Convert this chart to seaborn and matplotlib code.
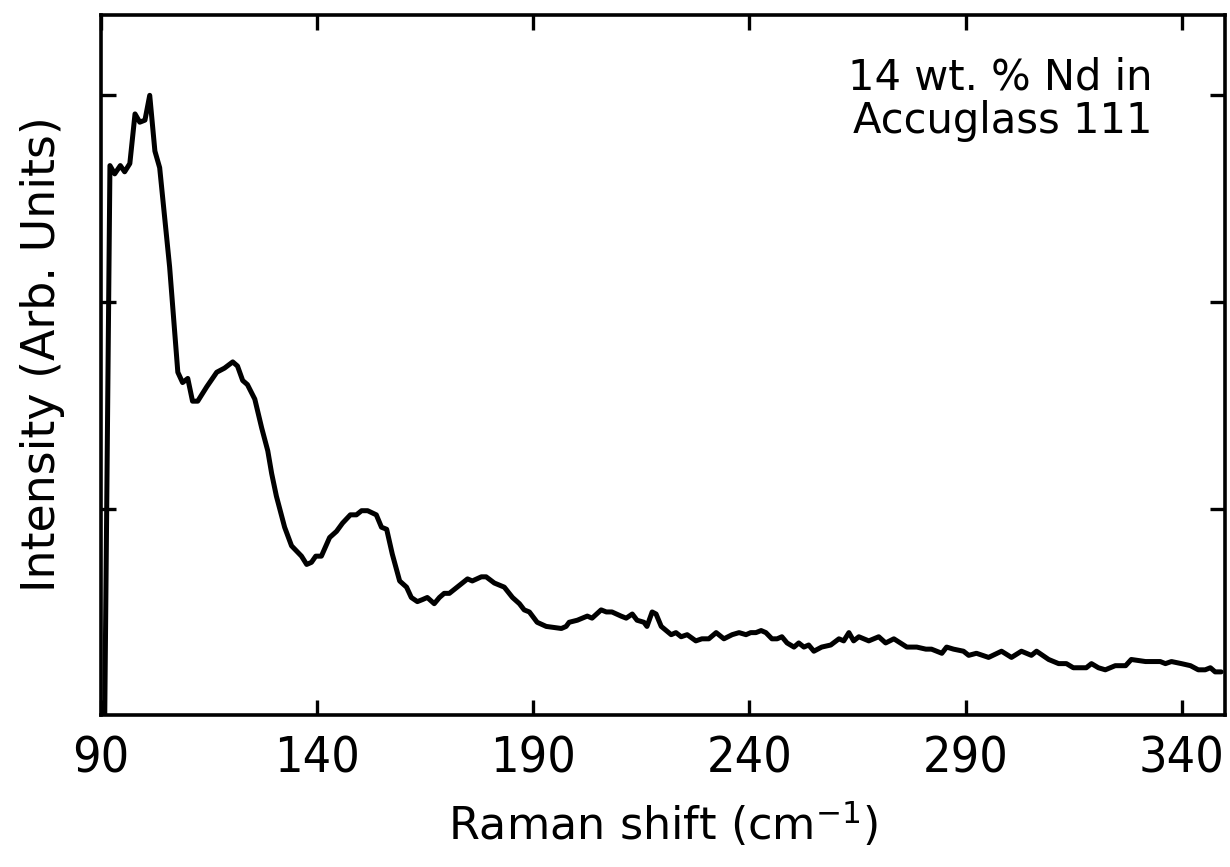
import numpy as np
import pandas as pd
import seaborn as sns
import matplotlib.pyplot as plt

# Raman spectrum
shift = [90.9, 92.1, 93.2, 94.5, 95.5, 96.7, 97.9, 99.0, 100.2, 101.3,
         102.5, 103.6, 105.9, 107.8, 108.9, 110.1, 111.2, 112.4, 114.5, 116.8,
         118.6, 120.5, 121.6, 122.8, 123.9, 125.6, 127.2, 128.6, 129.5, 130.6,
         132.5, 134.1, 136.4, 137.6, 138.7, 139.7, 141.0, 142.9, 144.5, 145.9,
         147.7, 149.1, 150.3, 151.7, 153.7, 154.9, 156.1, 157.4, 159.1, 160.7,
         161.8, 163.2, 164.4, 165.5, 167.1, 168.3, 169.4, 170.6, 172.4, 174.8,
         175.9, 178.0, 179.1, 181.0, 183.3, 185.2, 186.8, 187.9, 189.1, 190.9,
         193.0, 196.5, 197.6, 198.3, 200.2, 202.5, 203.6, 205.7, 206.9, 208.2,
         210.3, 211.5, 212.9, 214.0, 215.6, 216.3, 217.5, 218.4, 219.6, 221.9,
         223.0, 224.2, 225.6, 227.6, 229.0, 230.6, 232.3, 234.1, 236.0, 237.6,
         239.2, 240.3, 241.5, 242.7, 243.8, 245.2, 246.4, 247.5, 248.7, 250.3,
         251.4, 252.6, 253.7, 254.9, 256.7, 258.8, 260.7, 261.8, 263.0, 264.1,
         265.3, 267.6, 269.9, 271.5, 273.4, 276.4, 278.7, 280.8, 282.1, 284.5,
         285.6, 287.2, 289.5, 290.7, 292.5, 295.3, 298.3, 300.6, 302.9, 305.2,
         306.4, 309.2, 311.5, 313.3, 314.9, 317.9, 319.1, 320.7, 322.3, 324.6,
         327.0, 328.3, 331.6, 335.0, 336.2, 337.6, 339.9, 342.0, 343.8, 345.4,
         346.6, 347.7, 349.1]
intensity = [0.00, 2.66, 2.62, 2.66, 2.63, 2.67, 2.91, 2.87, 2.88, 3.00,
             2.73, 2.65, 2.17, 1.66, 1.61, 1.63, 1.52, 1.52, 1.59, 1.66,
             1.68, 1.71, 1.69, 1.62, 1.60, 1.53, 1.39, 1.28, 1.17, 1.06,
             0.91, 0.82, 0.77, 0.73, 0.74, 0.77, 0.77, 0.86, 0.89, 0.93,
             0.97, 0.97, 0.99, 0.99, 0.97, 0.91, 0.90, 0.78, 0.65, 0.62,
             0.57, 0.55, 0.56, 0.57, 0.54, 0.57, 0.59, 0.59, 0.62, 0.66,
             0.65, 0.67, 0.67, 0.64, 0.62, 0.57, 0.54, 0.51, 0.50, 0.45,
             0.43, 0.42, 0.43, 0.45, 0.46, 0.48, 0.47, 0.51, 0.50, 0.50,
             0.48, 0.47, 0.49, 0.46, 0.45, 0.43, 0.50, 0.49, 0.43, 0.39,
             0.40, 0.38, 0.39, 0.36, 0.37, 0.37, 0.40, 0.37, 0.39, 0.40,
             0.39, 0.40, 0.40, 0.41, 0.40, 0.37, 0.37, 0.38, 0.35, 0.33,
             0.35, 0.33, 0.34, 0.31, 0.33, 0.34, 0.37, 0.36, 0.40, 0.36,
             0.38, 0.36, 0.38, 0.35, 0.37, 0.33, 0.33, 0.32, 0.32, 0.30,
             0.33, 0.32, 0.31, 0.29, 0.30, 0.28, 0.31, 0.28, 0.31, 0.29,
             0.31, 0.27, 0.25, 0.25, 0.23, 0.23, 0.25, 0.23, 0.22, 0.24,
             0.24, 0.27, 0.26, 0.26, 0.25, 0.26, 0.25, 0.24, 0.22, 0.22,
             0.23, 0.21, 0.21]

x_ticks = [90, 140, 190, 240, 290, 340]
y_ticks = [1, 2, 3]

sns.set_style('ticks')
plt.rcParams['font.family'] = ['DejaVu Sans']
for key in ['text.color', 'axes.labelcolor', 'xtick.color', 'ytick.color', 'axes.edgecolor']:
    plt.rcParams[key] = 'black'

df = pd.DataFrame({'shift': shift, 'intensity': intensity})

fig = plt.figure(figsize=(12.3, 8.67), dpi=100)
ax = fig.add_axes([0.082, 0.175, 0.914, 0.808])

sns.lineplot(data=df, x='shift', y='intensity', color='black', linewidth=3.6, ax=ax)

ax.set_xlim(90, 350)
ax.set_ylim(0, 3.39)
ax.set_xticks(x_ticks)
ax.set_yticks(y_ticks)
ax.set_yticklabels([])
ax.tick_params(direction='in', length=11, width=2.4, top=True, right=True,
               labelsize=36, pad=14)
for lbl in ax.get_xticklabels():
    lbl.set_stretch('condensed')
for sp in ax.spines.values():
    sp.set_linewidth(2.6)
    sp.set_visible(True)

ax.set_xlabel('Raman shift (cm$^{-1}$)', fontsize=32, labelpad=12)
ax.set_ylabel('Intensity (Arb. Units)', fontsize=33)
ax.yaxis.set_label_coords(-0.032, 0.515)

ax.text(0.935, 0.94, '14 wt. % Nd in\nAccuglass 111', transform=ax.transAxes,
        ha='right', va='top', fontsize=30, linespacing=1.05)

fig.savefig('out.png', dpi=100)
